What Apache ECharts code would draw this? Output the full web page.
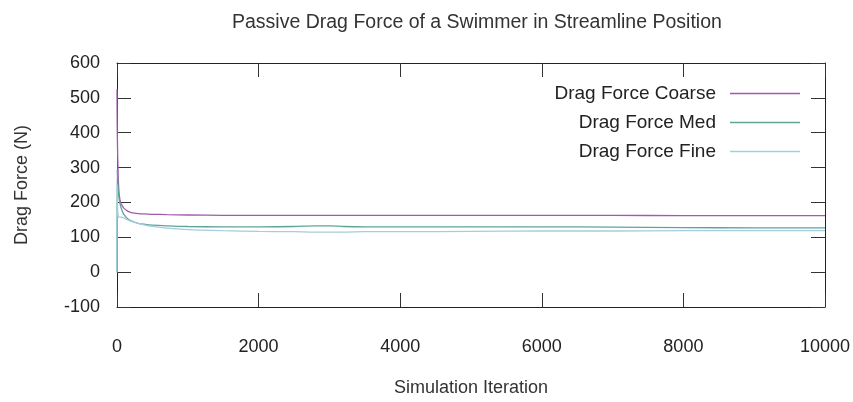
<!DOCTYPE html>
<html>
<head>
<meta charset="utf-8">
<script src="https://cdn.jsdelivr.net/npm/echarts@6/dist/echarts.min.js"></script>
<style>
html,body{margin:0;padding:0;background:#fff;}
#chart{width:853px;height:402px;}
</style>
</head>
<body>
<div id="chart"></div>
<script>
var titleText = 'Passive Drag Force of a Swimmer in Streamline Position';
var xAxisName = 'Simulation Iteration';
var yAxisName = 'Drag Force (N)';
var seriesNames = ['Drag Force Coarse', 'Drag Force Med', 'Drag Force Fine'];

var iterations = [0, 3, 10, 20, 30, 50, 75, 100, 150, 200, 300, 400, 500, 700, 1000, 1500, 2000, 2500, 2800, 3000, 3200, 3500, 4000, 5000, 6000, 7000, 8000, 9000, 10000];
var coarse = [525, 420, 330, 260, 225, 200, 190, 183, 175, 171, 168, 167, 166, 165, 164, 163, 163, 163, 163, 163, 163, 163, 163, 163, 163, 163, 162, 162, 162];
var med = [0, 295, 260, 230, 210, 190, 175, 165, 153, 147, 140, 137, 135, 133, 131, 130, 130, 131, 133, 133, 131, 130, 130, 130, 130, 129, 128, 127, 127];
var fine = [0, 250, 175, 160, 158, 158, 157, 155, 150, 146, 140, 135, 131, 126, 122, 119, 117, 116, 115, 115, 115, 116, 116, 117, 118, 118, 119, 119, 119];

var xTicks = [0, 2000, 4000, 6000, 8000, 10000];
var yTicks = [-100, 0, 100, 200, 300, 400, 500, 600];

function pairs(ys) { return iterations.map(function (x, i) { return [x, ys[i]]; }); }

var FONT = '"Liberation Sans", Arial, sans-serif';
var colors = ['#a25aae', '#5fa597', '#a3cde0'];

var chart = echarts.init(document.getElementById('chart'), null, {renderer: 'canvas'});
var axisLine = {show: true, onZero: false, lineStyle: {color: '#222', width: 1}};
var tick = {show: true, inside: true, length: 14, lineStyle: {color: '#333', width: 1}};

chart.setOption({
  animation: false,
  backgroundColor: '#fff',
  color: colors,
  title: {
    text: titleText, left: 227, top: 8,
    textStyle: {fontFamily: FONT, fontSize: 19.5, fontWeight: 'normal', color: '#333'}
  },
  legend: {
    orient: 'vertical', right: 48, top: 79, align: 'right',
    icon: 'rect', itemWidth: 70, itemHeight: 1.5, itemGap: 10,
    textStyle: {fontFamily: FONT, fontSize: 19, color: '#222', padding: [0, 9, 0, 0]},
    data: seriesNames
  },
  grid: {left: 117, right: 27, top: 63, bottom: 87, containLabel: false},
  xAxis: [{
    type: 'value', min: xTicks[0], max: xTicks[xTicks.length - 1], interval: 2000,
    name: xAxisName, nameLocation: 'middle', nameGap: 72,
    nameTextStyle: {fontFamily: FONT, fontSize: 18, color: '#333'},
    axisLine: axisLine, axisTick: tick, splitLine: {show: false},
    axisLabel: {fontFamily: FONT, fontSize: 18, color: '#222', margin: 31, formatter: function (v) { return String(v); }}
  }, {
    type: 'value', position: 'top', min: xTicks[0], max: xTicks[xTicks.length - 1], interval: 2000,
    axisLine: axisLine, axisTick: tick, splitLine: {show: false}, axisLabel: {show: false}
  }],
  yAxis: [{
    type: 'value', min: yTicks[0], max: yTicks[yTicks.length - 1], interval: 100,
    name: yAxisName, nameLocation: 'middle', nameGap: 86,
    nameTextStyle: {fontFamily: FONT, fontSize: 18, color: '#333'},
    axisLine: axisLine, axisTick: tick, splitLine: {show: false},
    axisLabel: {fontFamily: FONT, fontSize: 18, color: '#222', margin: 17, formatter: function (v) { return String(v); }}
  }, {
    type: 'value', position: 'right', min: yTicks[0], max: yTicks[yTicks.length - 1], interval: 100,
    axisLine: axisLine, axisTick: tick, splitLine: {show: false}, axisLabel: {show: false}
  }],
  series: [
    {name: seriesNames[0], type: 'line', data: pairs(coarse), symbol: 'none', smooth: 0.3, lineStyle: {width: 1.3}},
    {name: seriesNames[1], type: 'line', data: pairs(med), symbol: 'none', smooth: 0.3, lineStyle: {width: 1.3}},
    {name: seriesNames[2], type: 'line', data: pairs(fine), symbol: 'none', smooth: 0.3, lineStyle: {width: 1.3}}
  ]
});
</script>
</body>
</html>
